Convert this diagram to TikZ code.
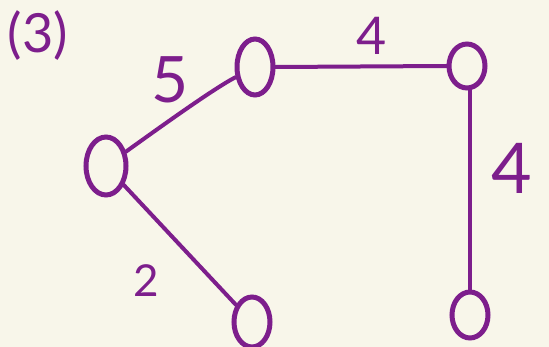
\documentclass[tikz,border=0pt]{standalone}
\usepackage{fontspec}
\setmainfont{Lato}
\usetikzlibrary{shapes.geometric}
\definecolor{ink}{RGB}{125,30,140}
\definecolor{paper}{RGB}{248,246,234}
\tikzset{
  vert/.style={draw=ink, line width=5pt, ellipse, inner sep=0pt},
  edge/.style={draw=ink, line width=4pt, line cap=round},
  wt/.style={text=ink, inner sep=0pt}
}
\begin{document}
\begin{tikzpicture}[x=1pt,y=-1pt]
  % canvas
  \fill[paper] (0,0) rectangle (549,347);
  \useasboundingbox (0,0) rectangle (549,347);

  % vertices
  \node[vert, minimum width=40pt, minimum height=58pt] (a) at (106,166) {};
  \node[vert, minimum width=36pt, minimum height=56pt] (b) at (255,67) {};
  \node[vert, minimum width=36pt, minimum height=44pt] (c) at (467,66) {};
  \node[vert, minimum width=36pt, minimum height=50pt] (d) at (252,322) {};
  \node[vert, minimum width=36pt, minimum height=46pt] (e) at (470,315) {};

  % edges
  \draw[edge] (a) .. controls (170,120) and (215,88) .. (b);
  \draw[edge] (b.east) -- (c.west);
  \draw[edge] (e.north |- c.south) -- (e.north);
  \draw[edge] (a) -- (d);

  % weights
  \node[wt, font=\fontsize{64}{64}\selectfont] (w5) at (170,80) {5};
  \node[wt, font=\fontsize{52}{52}\selectfont] (w4a) at (372,36) {4};
  \node[wt, font=\fontsize{70}{70}\selectfont] (w4b) at (512,168) {4};
  \node[wt, font=\fontsize{44}{44}\selectfont] (w2) at (146,281) {2};

  % part label
  \node[wt, font=\fontsize{54}{54}\selectfont] (lbl) at (38,36) {(3)};
\end{tikzpicture}
\end{document}
